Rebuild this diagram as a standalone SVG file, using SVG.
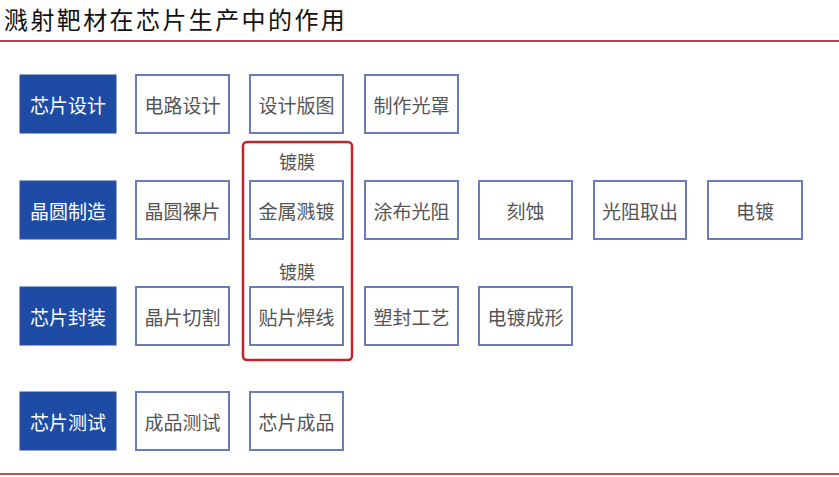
<svg xmlns="http://www.w3.org/2000/svg" width="839" height="477" viewBox="0 0 839 477">
<style>
.hd rect{fill:#1e4ca5;stroke:#2a4f9a;stroke-width:1}
.hd text{fill:#ffffff;font-family:"Noto Sans CJK SC",sans-serif;font-size:19px;text-anchor:middle;dominant-baseline:central}
.st rect{fill:#ffffff;stroke:#6c7bbd;stroke-width:2}
.st text{fill:#555555;font-family:"Noto Sans CJK SC",sans-serif;font-size:19px;text-anchor:middle;dominant-baseline:central}
.lb{fill:#555555;font-family:"Noto Sans CJK SC",sans-serif;font-size:18px;text-anchor:middle;dominant-baseline:central}
</style>
<rect width="839" height="477" fill="#ffffff"/>
<text x="4" y="18" font-family="Noto Sans CJK SC,sans-serif" font-size="24" letter-spacing="2.4" fill="#111111" dominant-baseline="central">溅射靶材在芯片生产中的作用</text>
<line x1="0" y1="41" x2="839" y2="41" stroke="#b8474d" stroke-width="2"/>
<line x1="0" y1="474" x2="839" y2="474" stroke="#c0504d" stroke-width="2"/>

<g id="h1" class="hd"><rect x="20" y="75" width="96" height="58"/><text x="68" y="104">芯片设计</text></g>
<g id="h2" class="hd"><rect x="20" y="181" width="96" height="58"/><text x="68" y="210">晶圆制造</text></g>
<g id="h3" class="hd"><rect x="20" y="287" width="96" height="58"/><text x="68" y="316">芯片封装</text></g>
<g id="h4" class="hd"><rect x="20" y="392" width="96" height="58"/><text x="68" y="421">芯片测试</text></g>

<g id="r1c1" class="st"><rect x="136" y="75" width="93" height="58"/><text x="182.5" y="104">电路设计</text></g>
<g id="r1c2" class="st"><rect x="250" y="75" width="93" height="58"/><text x="296.5" y="104">设计版图</text></g>
<g id="r1c3" class="st"><rect x="365" y="75" width="93" height="58"/><text x="411.5" y="104">制作光罩</text></g>

<g id="r2c1" class="st"><rect x="136" y="181" width="93" height="58"/><text x="182.5" y="210">晶圆裸片</text></g>
<g id="r2c2" class="st"><rect x="250" y="181" width="93" height="58"/><text x="296.5" y="210">金属溅镀</text></g>
<g id="r2c3" class="st"><rect x="365" y="181" width="93" height="58"/><text x="411.5" y="210">涂布光阻</text></g>
<g id="r2c4" class="st"><rect x="479" y="181" width="93" height="58"/><text x="525.5" y="210">刻蚀</text></g>
<g id="r2c5" class="st"><rect x="594" y="181" width="92" height="58"/><text x="640" y="210">光阻取出</text></g>
<g id="r2c6" class="st"><rect x="708" y="181" width="94" height="58"/><text x="755" y="210">电镀</text></g>

<g id="r3c1" class="st"><rect x="136" y="287" width="93" height="58"/><text x="182.5" y="316">晶片切割</text></g>
<g id="r3c2" class="st"><rect x="250" y="287" width="93" height="58"/><text x="296.5" y="316">贴片焊线</text></g>
<g id="r3c3" class="st"><rect x="365" y="287" width="93" height="58"/><text x="411.5" y="316">塑封工艺</text></g>
<g id="r3c4" class="st"><rect x="479" y="287" width="93" height="58"/><text x="525.5" y="316">电镀成形</text></g>

<g id="r4c1" class="st"><rect x="136" y="392" width="93" height="58"/><text x="182.5" y="421">成品测试</text></g>
<g id="r4c2" class="st"><rect x="250" y="392" width="93" height="58"/><text x="296.5" y="421">芯片成品</text></g>

<g id="highlight">
<rect x="243" y="142" width="109" height="218" rx="4" fill="none" stroke="#c0232e" stroke-width="2.5"/>
<text class="lb" x="297" y="161">镀膜</text>
<text class="lb" x="297" y="271">镀膜</text>
</g>
<g id="connectors"></g>
</svg>
